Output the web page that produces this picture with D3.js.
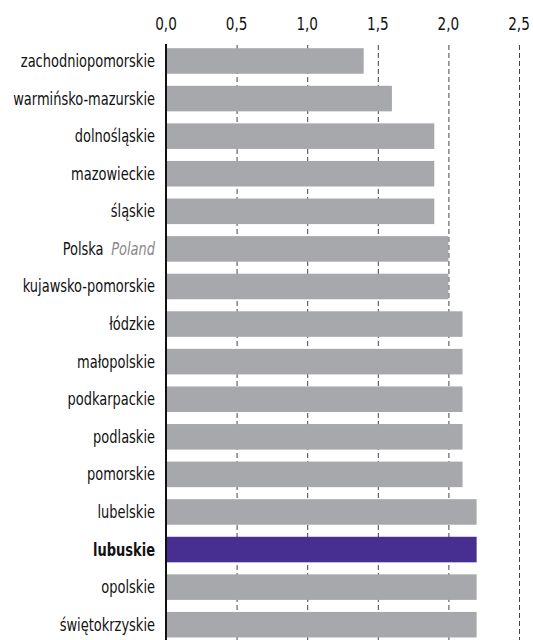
<!DOCTYPE html>
<html>
<head>
<meta charset="utf-8">
<script src="https://cdn.jsdelivr.net/npm/d3@7"></script>
<style>
  body { margin: 0; background: #fff; overflow: hidden; }
  text { font-family: "Liberation Sans Narrow", "DejaVu Sans Condensed", sans-serif; }
</style>
</head>
<body>
<div id="chart"></div>
<script>
const WIDTH = 533;
const HEIGHT = 640;

// data
const regions = ["zachodniopomorskie", "warmińsko-mazurskie", "dolnośląskie", "mazowieckie",
  "śląskie", "Polska", "kujawsko-pomorskie", "łódzkie", "małopolskie", "podkarpackie",
  "podlaskie", "pomorskie", "lubelskie", "lubuskie", "opolskie", "świętokrzyskie"];
const values = [1.4, 1.6, 1.9, 1.9, 1.9, 2.0, 2.0, 2.1, 2.1, 2.1, 2.1, 2.1, 2.2, 2.2, 2.2, 2.2];
const tickValues = [0, 0.5, 1.0, 1.5, 2.0, 2.5];
const highlight = "lubuskie";
const country = "Polska";
const countryEn = "Poland";

const data = regions.map((r, i) => ({name: r, value: values[i]}));

const svg = d3.select("#chart")
  .append("svg")
    .attr("width", WIDTH)
    .attr("height", HEIGHT)
    .style("display", "block");

const x = d3.scaleLinear().domain([0, 2.5]).range([166, 519]);
const y = d3.scaleBand()
  .domain(regions)
  .range([42.2, 643.5])
  .paddingInner(0.32)
  .paddingOuter(0.16);

// gridlines
const grid = svg.append("g")
  .attr("transform", "translate(0,44)")
  .call(d3.axisTop(x)
    .tickValues(tickValues)
    .tickSize(-(HEIGHT - 44))
    .tickFormat(""));
grid.select(".domain").remove();
grid.selectAll(".tick line")
  .attr("stroke", "#444")
  .attr("stroke-dasharray", "5,3")
  .attr("y1", 1);

// top tick labels, squeezed to look condensed
svg.selectAll("text.tick-label")
  .data(tickValues)
  .enter()
  .append("text")
    .attr("class", "tick-label")
    .attr("transform", d => `translate(${x(d)},30) scale(0.84,1)`)
    .attr("text-anchor", "middle")
    .attr("font-size", 18)
    .attr("fill", "#111")
    .text(d => d3.format(".1f")(d).replace(".", ","));

// bars
svg.selectAll("rect.bar")
  .data(data)
  .enter()
  .append("rect")
    .attr("class", "bar")
    .attr("x", x(0))
    .attr("y", d => y(d.name))
    .attr("width", d => x(d.value) - x(0))
    .attr("height", y.bandwidth())
    .attr("fill", d => d.name === highlight ? "#472f91" : "#a7a8ab");

// zero axis line
svg.append("line")
  .attr("x1", x(0)).attr("x2", x(0))
  .attr("y1", 44).attr("y2", HEIGHT)
  .attr("stroke", "#111")
  .attr("stroke-width", 2);

// category labels
const labels = svg.selectAll("text.label")
  .data(data)
  .enter()
  .append("text")
    .attr("class", "label")
    .attr("transform", d => `translate(155,${y(d.name) + y.bandwidth() / 2}) scale(0.85,1)`)
    .attr("dy", "0.35em")
    .attr("text-anchor", "end")
    .attr("font-size", 17)
    .attr("fill", "#111")
    .attr("font-weight", d => d.name === highlight ? "bold" : "normal");

labels.each(function(d) {
  const t = d3.select(this);
  if (d.name === country) {
    t.append("tspan").text(d.name);
    t.append("tspan").attr("dx", 9).attr("fill", "#888").attr("font-style", "italic").text(countryEn);
  } else {
    t.text(d.name);
  }
});
</script>
</body>
</html>
